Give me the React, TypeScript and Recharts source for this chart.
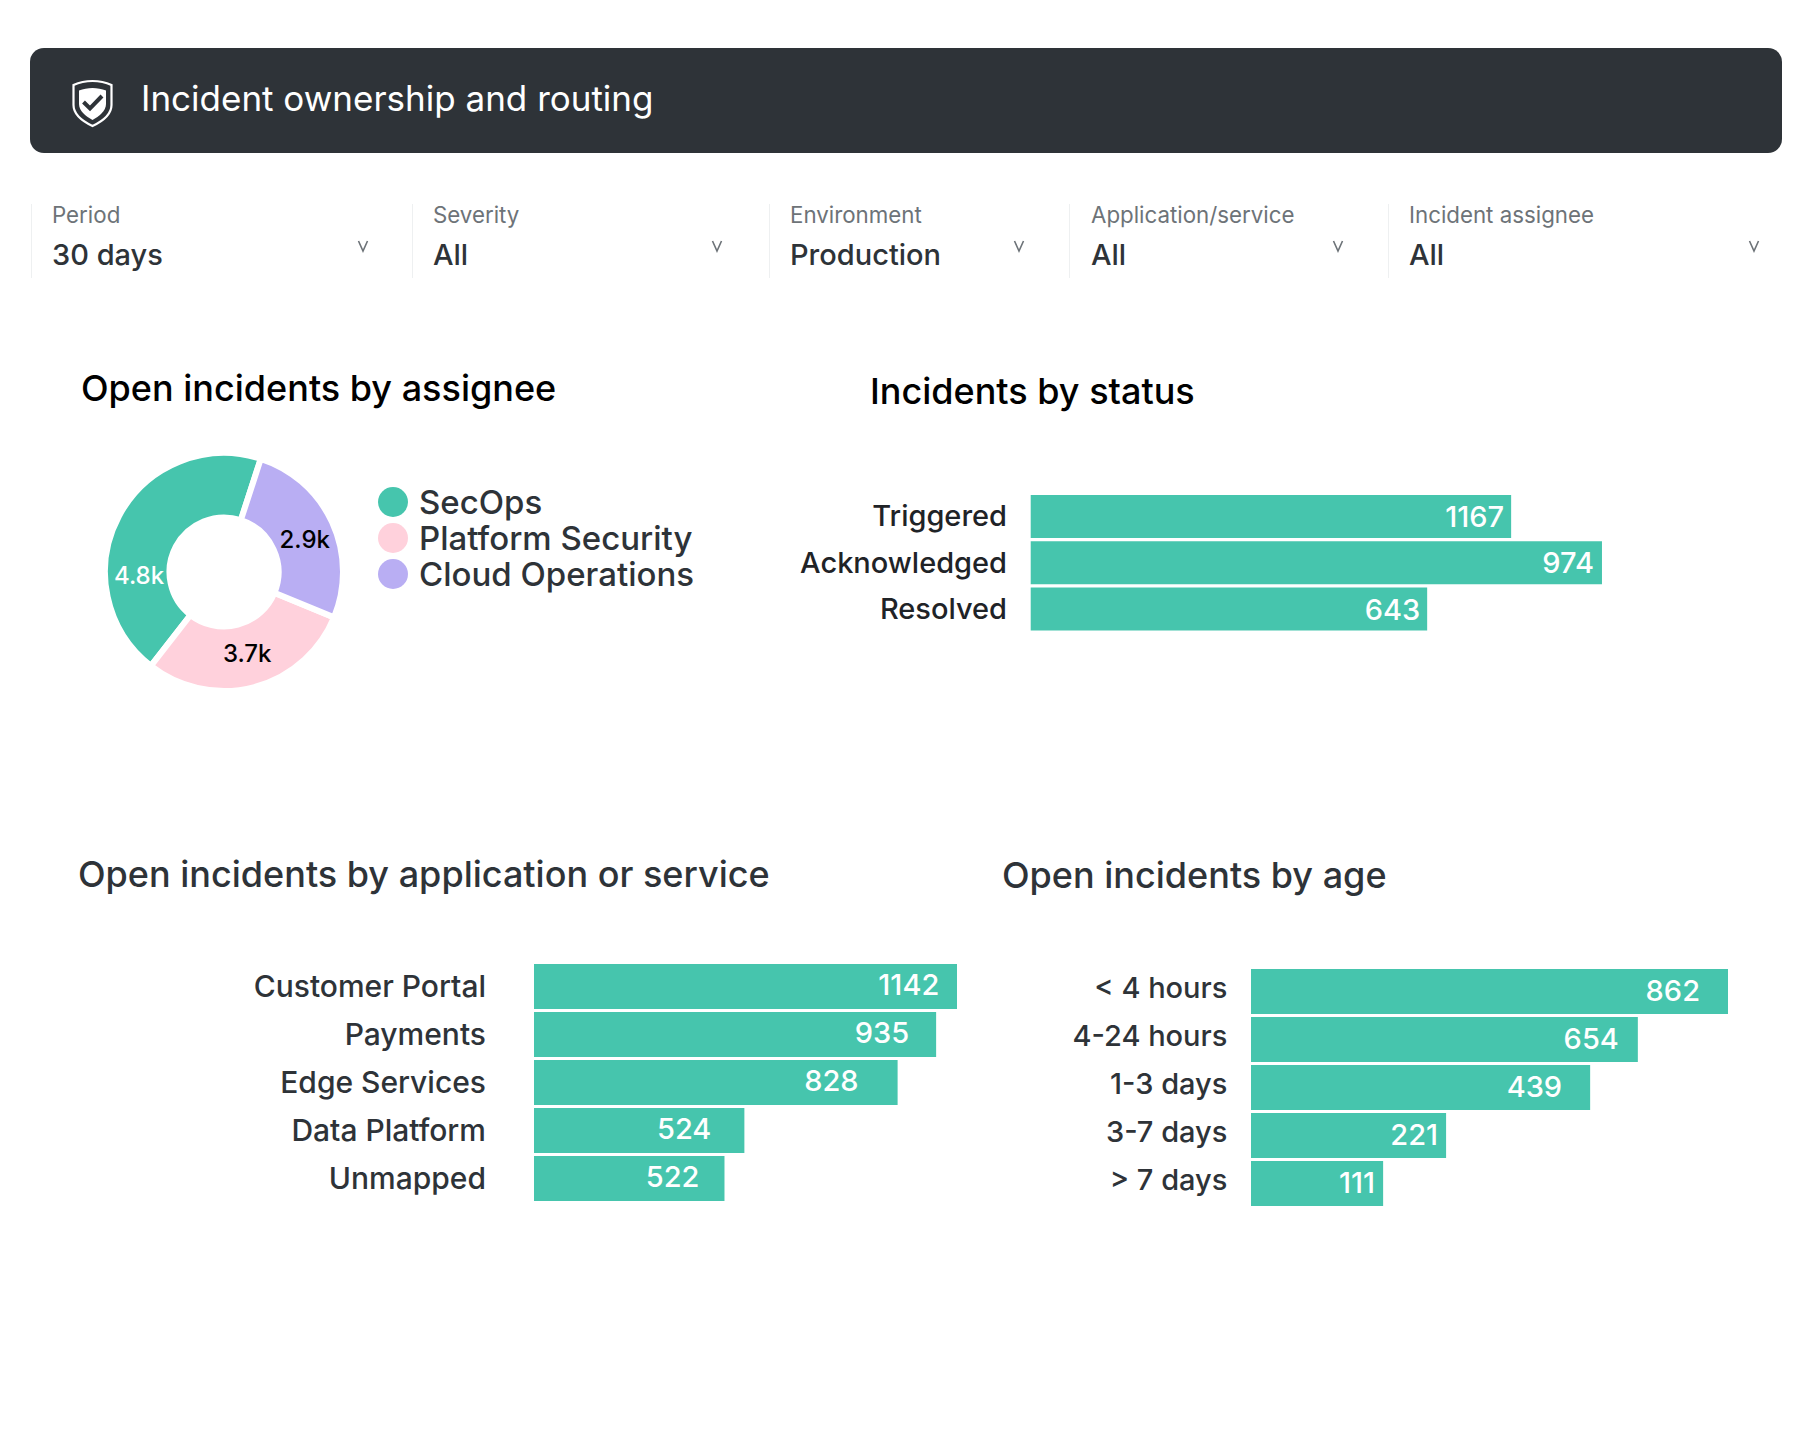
import { BarChart, Bar, XAxis, YAxis, LabelList, PieChart, Pie, Cell, Legend } from 'recharts';

const FONT = 'Inter, sans-serif';
const INK = '#2e3338';
const GREEN = '#46c5ad';

const assignees = ['SecOps', 'Platform Security', 'Cloud Operations'];
// slice sizes as drawn; the printed figures below do not quite follow them
const assigneeArcs = [5070, 3340, 2990];
const assigneePrinted = ['4.8k', '3.7k', '2.9k'];
const assigneeColors = [GREEN, '#ffd1dc', '#b9aef3'];

// bar lengths are read as % of the longest bar, printed values are the labels in the bars
const statuses = ['Triggered', 'Acknowledged', 'Resolved'];
const statusLengths = [84.1, 100, 69.4];
const statusPrinted = [1167, 974, 643];

const services = ['Customer Portal', 'Payments', 'Edge Services', 'Data Platform', 'Unmapped'];
const serviceLengths = [100, 95, 85.9, 49.7, 45];
const servicePrinted = [1142, 935, 828, 524, 522];

const ages = ['< 4 hours', '4-24 hours', '1-3 days', '3-7 days', '> 7 days'];
const ageLengths = [100, 81.1, 71.1, 40.9, 27.7];
const agePrinted = [862, 654, 439, 221, 111];

const filterNames = ['Period', 'Severity', 'Environment', 'Application/service', 'Incident assignee'];
const filterValues = ['30 days', 'All', 'Production', 'All', 'All'];

// layout only
const filterLeft = [52, 433, 790, 1091, 1409];
const filterChevron = [363, 717, 1019, 1338, 1754];
const filterRule = [31, 412, 769, 1069, 1388];
const statusInset = [7, 8, 7];
const serviceInset = [18, 27, 39, 33, 25];
const ageInset = [28, 19, 28, 8, 8];
const sliceLabelTurn = [30.4, 1, -3];
const sliceLabelRadius = [85, 85, 87];

const toRows = (names: string[], lengths: number[], printed: number[]) =>
  names.map((name, i) => ({ name, length: lengths[i], printed: printed[i] }));

const assigneeRows = assignees.map((name, i) => ({ name, value: assigneeArcs[i] }));

function Title({ left, top, color, children }: any) {
  return (
    <div
      style={{
        position: 'absolute',
        left,
        top,
        fontSize: 36,
        lineHeight: '44px',
        fontWeight: 500,
        color,
        whiteSpace: 'nowrap',
      }}
    >
      {children}
    </div>
  );
}

function Chevron({ x }: { x: number }) {
  return (
    <svg style={{ position: 'absolute', left: x - 6, top: 240 }} width={12} height={13}>
      <polyline points="1.5,1 6,11 10.5,1" fill="none" stroke="#6d7378" strokeWidth={1.6} />
    </svg>
  );
}

function ShieldIcon() {
  return (
    <svg style={{ position: 'absolute', left: 71, top: 79 }} width={43} height={49} viewBox="0 0 43 49" fill="none">
      <path
        d="M21.5 2 C28 2 35 3.5 40.5 6 L40.5 26 C40.5 35 31 42.5 21.5 47 C12 42.5 2.5 35 2.5 26 L2.5 6 C8 3.5 15 2 21.5 2 Z"
        stroke="#fff"
        strokeWidth={2.2}
      />
      <path
        d="M21.5 9 C26 9 31 10 35 11.5 L35 25 C35 32 28 37.5 21.5 41 C15 37.5 8 32 8 25 L8 11.5 C12 10 17 9 21.5 9 Z"
        fill="#fff"
      />
      <path d="M12.5 23 L19 29.5 L31 17" stroke={INK} strokeWidth={4} />
    </svg>
  );
}

function barLabel(inset: number[], lift: number) {
  return (props: any) => {
    const { x, y, width, height, index, value } = props;
    return (
      <text
        x={x + width - inset[index]}
        y={y + height / 2 + lift}
        textAnchor="end"
        dominantBaseline="central"
        fill="#fff"
        fontFamily={FONT}
        fontSize={29}
        fontWeight={500}
      >
        {value}
      </text>
    );
  };
}

function RankBars({ left, top, axisWidth, plotWidth, pitch, barSize, rows, inset, tickGap, tickLift, tickSize, tickColor, labelLift }: any) {
  return (
    <div style={{ position: 'absolute', left, top }}>
      <BarChart
        width={axisWidth + plotWidth}
        height={pitch * rows.length}
        data={rows}
        layout="vertical"
        margin={{ top: 0, right: 0, bottom: 0, left: 0 }}
      >
        <XAxis type="number" hide domain={[0, 100]} />
        <YAxis
          type="category"
          dataKey="name"
          width={axisWidth}
          interval={0}
          axisLine={false}
          tickLine={false}
          tickSize={0}
          tickMargin={tickGap}
          dy={tickLift}
          tick={{ fill: tickColor, fontSize: tickSize, fontWeight: 500, fontFamily: FONT }}
        />
        <Bar dataKey="length" fill={GREEN} barSize={barSize} isAnimationActive={false}>
          <LabelList dataKey="printed" content={barLabel(inset, labelLift)} />
        </Bar>
      </BarChart>
    </div>
  );
}

function sliceLabel(props: any) {
  const { cx, cy, midAngle, index } = props;
  // labels sit off the middle of their slices in the reference, the 4.8k one most of all
  const angle = ((midAngle + sliceLabelTurn[index]) * Math.PI) / 180;
  const radius = sliceLabelRadius[index];
  return (
    <text
      x={cx + radius * Math.cos(angle)}
      y={cy - radius * Math.sin(angle)}
      textAnchor="middle"
      dominantBaseline="central"
      fill={index === 0 ? '#fff' : '#000'}
      fontFamily={FONT}
      fontSize={24}
      fontWeight={500}
    >
      {assigneePrinted[index]}
    </text>
  );
}

function assigneeLegend() {
  return (
    <div>
      {assignees.map((name, i) => (
        <div key={name} style={{ display: 'flex', alignItems: 'center', height: 36 }}>
          <span
            style={{
              width: 30,
              height: 30,
              borderRadius: '50%',
              background: assigneeColors[i],
              marginRight: 11,
            }}
          />
          <span style={{ fontSize: 33, lineHeight: '34px', fontWeight: 500, color: INK, whiteSpace: 'nowrap' }}>{name}</span>
        </div>
      ))}
    </div>
  );
}

export default function App() {
  return (
    <div
      style={{
        position: 'absolute',
        left: 0,
        top: 0,
        width: 1812,
        height: 1446,
        background: '#fff',
        fontFamily: FONT,
        overflow: 'hidden',
      }}
    >
      <div style={{ position: 'absolute', left: 30, top: 48, width: 1752, height: 105, background: INK, borderRadius: 14 }} />
      <ShieldIcon />
      <div
        style={{
          position: 'absolute',
          left: 141,
          top: 75,
          fontSize: 35,
          lineHeight: '46px',
          color: '#fff',
          whiteSpace: 'nowrap',
        }}
      >
        Incident ownership and routing
      </div>

      {filterNames.map((name, i) => (
        <div key={name}>
          <div style={{ position: 'absolute', left: filterRule[i], top: 204, width: 1, height: 74, background: '#eef0f1' }} />
          <div style={{ position: 'absolute', left: filterLeft[i], top: 201, fontSize: 22.3, lineHeight: '28px', color: '#6d7378', whiteSpace: 'nowrap' }}>
            {name}
          </div>
          <div style={{ position: 'absolute', left: filterLeft[i], top: 237, fontSize: 29, lineHeight: '36px', fontWeight: 500, color: INK, whiteSpace: 'nowrap' }}>
            {filterValues[i]}
          </div>
          <Chevron x={filterChevron[i]} />
        </div>
      ))}

      <Title left={81} top={366} color="#000">Open incidents by assignee</Title>
      <Title left={870} top={369} color="#000">Incidents by status</Title>
      <Title left={78} top={852} color={INK}>Open incidents by application or service</Title>
      <Title left={1002} top={853} color={INK}>Open incidents by age</Title>

      <div style={{ position: 'absolute', left: 100, top: 440 }}>
        <PieChart width={660} height={270} margin={{ top: 0, right: 0, bottom: 0, left: 0 }}>
          <Pie
            data={assigneeRows}
            dataKey="value"
            nameKey="name"
            cx={124}
            cy={132}
            innerRadius={54.5}
            outerRadius={119}
            startAngle={72}
            endAngle={432}
            stroke="#fff"
            strokeWidth={6}
            label={sliceLabel}
            labelLine={false}
            isAnimationActive={false}
          >
            {assigneeRows.map((row, i) => (
              <Cell key={row.name} fill={assigneeColors[i]} />
            ))}
          </Pie>
          <Legend
            layout="vertical"
            align="right"
            verticalAlign="middle"
            itemSorter={null}
            content={assigneeLegend}
            wrapperStyle={{ left: 278, top: 44, right: 'auto', width: 380 }}
          />
        </PieChart>
      </div>

      <RankBars
        left={779.6}
        top={493.4}
        axisWidth={250.7}
        plotWidth={571.3}
        pitch={46.3}
        barSize={43}
        rows={toRows(statuses, statusLengths, statusPrinted)}
        inset={statusInset}
        tickGap={23.7}
        tickLift={0}
        tickSize={29}
        tickColor="#1f2327"
        labelLift={0}
      />
      <RankBars
        left={60}
        top={961.9}
        axisWidth={474}
        plotWidth={423.3}
        pitch={48}
        barSize={45}
        rows={toRows(services, serviceLengths, servicePrinted)}
        inset={serviceInset}
        tickGap={48}
        tickLift={0.7}
        tickSize={30}
        tickColor={INK}
        labelLift={-2}
      />
      <RankBars
        left={980}
        top={966.8}
        axisWidth={271}
        plotWidth={477}
        pitch={48}
        barSize={45}
        rows={toRows(ages, ageLengths, agePrinted)}
        inset={ageInset}
        tickGap={23.6}
        tickLift={-2.8}
        tickSize={29}
        tickColor={INK}
        labelLift={-1}
      />
    </div>
  );
}
